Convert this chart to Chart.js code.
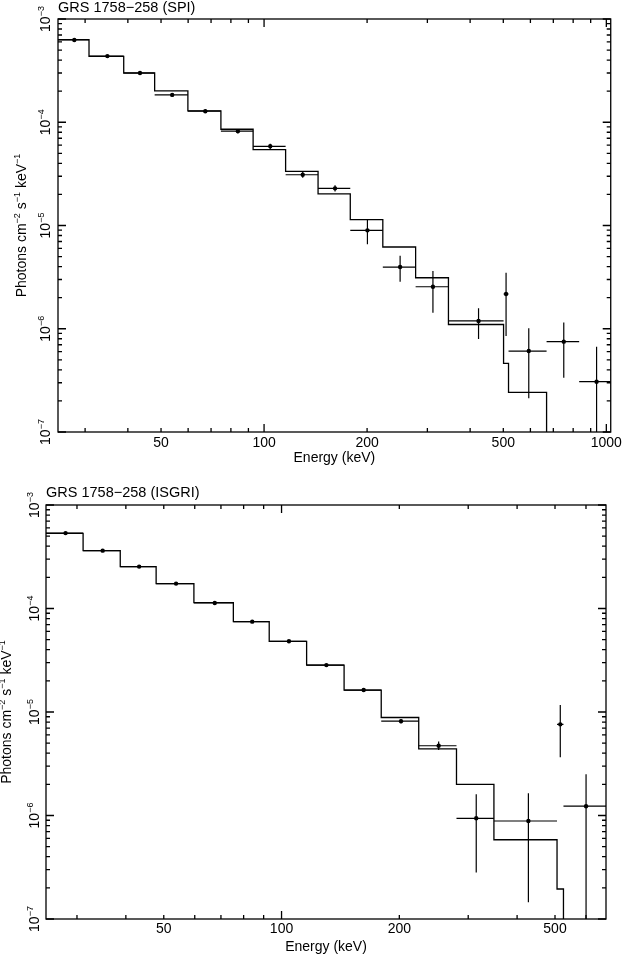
<!DOCTYPE html>
<html>
<head>
<meta charset="utf-8">
<title>GRS 1758-258 spectra</title>
<script src="https://cdn.jsdelivr.net/npm/chart.js@4.4.1/dist/chart.umd.min.js"></script>
<style>
  html, body { margin: 0; padding: 0; background: #fff; }
  #wrap { position: relative; width: 625px; height: 956px; }
  canvas { position: absolute; left: 0; }
</style>
</head>
<body>
<div id="wrap">
  <canvas id="spiChart" width="625" height="478" style="top:0;width:625px;height:478px"></canvas>
  <canvas id="isgriChart" width="625" height="478" style="top:478px;width:625px;height:478px"></canvas>
</div>
<script>
// ---- data (energy in keV, flux in photons cm^-2 s^-1 keV^-1)
var spiTicks = [50, 100, 200, 500, 1000];
var spiEdges = [25, 30.8, 38.9, 47.9, 59.9, 74.8, 92.9, 115.6, 143.8, 178.6, 222.3, 277.2, 345.7, 500.9, 517.9, 669, 833, 1040];
var spiModel = [6.3e-4, 4.35e-4, 3.0e-4, 2.01e-4, 1.29e-4, 8.55e-5, 5.42e-5, 3.35e-5, 2.02e-5, 1.14e-5, 6.19e-6, 3.12e-6, 1.10e-6, 4.62e-7, 2.42e-7, 3e-8, 1e-8];
var spiFlux  = [6.26e-4, 4.37e-4, 3.0e-4, 1.84e-4, 1.28e-4, 8.2e-5, 5.85e-5, 3.10e-5, 2.29e-5, 8.97e-6, 3.96e-6, 2.55e-6, 1.19e-6, 2.17e-6, 6.08e-7, 7.5e-7, 3.07e-7];
var spiHi    = [6.4e-4, 4.45e-4, 3.06e-4, 1.9e-4, 1.33e-4, 8.6e-5, 6.2e-5, 3.3e-5, 2.45e-5, 1.14e-5, 5.1e-6, 3.62e-6, 1.58e-6, 3.49e-6, 1.01e-6, 1.15e-6, 6.7e-7];
var spiLo    = [6.1e-4, 4.3e-4, 2.94e-4, 1.78e-4, 1.23e-4, 7.8e-5, 5.5e-5, 2.9e-5, 2.13e-5, 6.58e-6, 2.86e-6, 1.43e-6, 7.96e-7, 8.5e-7, 2.12e-7, 3.36e-7, 1e-8];

var isgriTicks = [50, 100, 200, 500];
var isgriEdges = [25, 31.1, 38.7, 47.8, 59.7, 75.3, 93.0, 115.9, 144.5, 179.8, 224.2, 280, 349, 506, 525.5, 675];
var isgriModel = [5.33e-4, 3.62e-4, 2.54e-4, 1.74e-4, 1.14e-4, 7.46e-5, 4.82e-5, 2.84e-5, 1.63e-5, 8.85e-6, 4.40e-6, 2.0e-6, 5.83e-7, 1.95e-7, 3e-8];
var isgriFlux  = [5.35e-4, 3.62e-4, 2.54e-4, 1.74e-4, 1.13e-4, 7.46e-5, 4.82e-5, 2.84e-5, 1.63e-5, 8.15e-6, 4.72e-6, 9.4e-7, 8.85e-7, 7.6e-6, 1.23e-6];
var isgriHi    = [5.45e-4, 3.68e-4, 2.58e-4, 1.77e-4, 1.16e-4, 7.6e-5, 4.92e-5, 2.9e-5, 1.67e-5, 8.5e-6, 5.2e-6, 1.6e-6, 1.64e-6, 1.17e-5, 2.5e-6];
var isgriLo    = [5.25e-4, 3.56e-4, 2.5e-4, 1.71e-4, 1.11e-4, 7.3e-5, 4.72e-5, 2.78e-5, 1.59e-5, 7.8e-6, 4.3e-6, 2.82e-7, 1.45e-7, 3.65e-6, 1e-8];

var FAMILY = '"Liberation Sans", Arial, Helvetica, sans-serif';
var FONT_SIZE = 14;

// ---- helpers to turn bins into chart points
function stepPoints(edges, model) {
  var pts = [];
  for (var i = 0; i < model.length; i++) pts.push({x: edges[i], y: model[i]});
  pts.push({x: edges[model.length], y: model[model.length - 1]});
  return pts;
}
function binCenters(edges, n) {
  var c = [];
  for (var i = 0; i < n; i++) c.push((edges[i] + edges[i + 1]) / 2);
  return c;
}
function xBars(edges, flux) {
  var pts = [];
  for (var i = 0; i < flux.length; i++) {
    pts.push({x: edges[i], y: flux[i]}, {x: edges[i + 1], y: flux[i]}, {x: edges[i + 1], y: null});
  }
  return pts;
}
function yBars(cen, lo, hi) {
  var pts = [];
  for (var i = 0; i < cen.length; i++) {
    pts.push({x: cen[i], y: lo[i]}, {x: cen[i], y: hi[i]}, {x: cen[i], y: null});
  }
  return pts;
}

function logTicks(min, max) {
  var out = [];
  for (var d = Math.floor(Math.log10(min)); d <= Math.ceil(Math.log10(max)); d++) {
    for (var k = 1; k <= 9; k++) {
      var v = k * Math.pow(10, d);
      if (v >= min * 0.9999 && v <= max * 1.0001) out.push({v: v, major: k === 1});
    }
  }
  return out;
}

// text with superscripts, parts = [[text, isSup], ...]
function supText(ctx, parts, x, y, size, rotate, center) {
  var base = size + 'px ' + FAMILY, sup = Math.round(size * 0.66) + 'px ' + FAMILY;
  ctx.save();
  ctx.translate(x, y);
  if (rotate) ctx.rotate(-Math.PI / 2);
  var w = 0;
  parts.forEach(function(p) { ctx.font = p[1] ? sup : base; w += ctx.measureText(p[0]).width; });
  var cx = center ? -w / 2 : 0;
  ctx.textBaseline = 'alphabetic';
  ctx.textAlign = 'left';
  ctx.fillStyle = '#000';
  parts.forEach(function(p) {
    ctx.font = p[1] ? sup : base;
    ctx.fillText(p[0], cx, p[1] ? -size * 0.42 : 0);
    cx += ctx.measureText(p[0]).width;
  });
  ctx.restore();
}

// frame, inward ticks, rotated decade labels, y title and panel title (PGPLOT look)
var framePlugin = {
  id: 'frame',
  afterDraw: function(chart, args, opts) {
    var ctx = chart.ctx, a = chart.chartArea, xs = chart.scales.x, ys = chart.scales.y;
    ctx.save();
    ctx.strokeStyle = '#000';
    ctx.lineWidth = 1.3;
    ctx.strokeRect(a.left, a.top, a.right - a.left, a.bottom - a.top);
    ctx.beginPath();
    logTicks(xs.min, xs.max).forEach(function(t) {
      var px = xs.getPixelForValue(t.v), len = t.major ? 8 : 4;
      ctx.moveTo(px, a.bottom); ctx.lineTo(px, a.bottom - len);
      ctx.moveTo(px, a.top); ctx.lineTo(px, a.top + len);
    });
    logTicks(ys.min, ys.max).forEach(function(t) {
      var py = ys.getPixelForValue(t.v), len = t.major ? 8 : 4;
      ctx.moveTo(a.left, py); ctx.lineTo(a.left + len, py);
      ctx.moveTo(a.right, py); ctx.lineTo(a.right - len, py);
    });
    ctx.stroke();

    logTicks(ys.min, ys.max).forEach(function(t) {
      if (!t.major) return;
      var exp = Math.round(Math.log10(t.v));
      supText(ctx, [['10', 0], ['\u2212' + Math.abs(exp), 1]], opts.tickX, ys.getPixelForValue(t.v), FONT_SIZE, true, true);
    });

    supText(ctx, [['Photons cm', 0], ['\u22122', 1], [' s', 0], ['\u22121', 1], [' keV', 0], ['\u22121', 1]],
      opts.titleX, (a.top + a.bottom) / 2, FONT_SIZE, true, true);

    supText(ctx, [[opts.panel, 0]], a.left, opts.panelY, 14.5, false, false);
    ctx.restore();
  }
};

function makeChart(id, c) {
  var cen = binCenters(c.edges, c.flux.length);
  return new Chart(document.getElementById(id), {
    type: 'line',
    data: {
      datasets: [
        { label: 'points', data: cen.map(function(x, i) { return {x: x, y: c.flux[i]}; }),
          showLine: false, pointRadius: 2.2, pointBackgroundColor: '#000', pointBorderWidth: 0 },
        { label: 'x errors', data: xBars(c.edges, c.flux), borderColor: '#000', borderWidth: 1.2,
          pointRadius: 0, spanGaps: false, fill: false },
        { label: 'y errors', data: yBars(cen, c.lo, c.hi), borderColor: '#000', borderWidth: 1.2,
          pointRadius: 0, spanGaps: false, fill: false },
        { label: 'model', data: stepPoints(c.edges, c.model), stepped: true, borderColor: '#000',
          borderWidth: 1.3, pointRadius: 0, fill: false }
      ]
    },
    options: {
      responsive: false,
      animation: false,
      devicePixelRatio: 1,
      events: [],
      layout: { padding: c.padding },
      plugins: {
        legend: { display: false },
        tooltip: { enabled: false },
        frame: { panel: c.panel, panelY: c.panelY, tickX: c.tickX, titleX: c.titleX }
      },
      scales: {
        x: {
          type: 'logarithmic', min: c.xmin, max: c.xmax,
          grid: { display: false, drawTicks: false },
          border: { display: false },
          afterBuildTicks: function(s) { s.ticks = c.ticks.map(function(v) { return {value: v}; }); },
          afterFit: function(s) { s.height = c.xHeight; },
          ticks: { color: '#000', font: { family: FAMILY, size: FONT_SIZE }, padding: c.tickPad,
                   autoSkip: false, maxRotation: 0, callback: function(v) { return String(v); } },
          title: { display: true, text: 'Energy (keV)', color: '#000',
                   font: { family: FAMILY, size: FONT_SIZE }, padding: { top: 0, bottom: c.titlePad } }
        },
        y: {
          type: 'logarithmic', min: 1e-7, max: 1e-3,
          grid: { display: false, drawTicks: false },
          border: { display: false },
          ticks: { display: false },
          afterFit: function(s) { s.width = c.yWidth; }
        }
      }
    },
    plugins: [framePlugin]
  });
}

makeChart('spiChart', {
  edges: spiEdges, model: spiModel, flux: spiFlux, hi: spiHi, lo: spiLo, ticks: spiTicks,
  xmin: 25, xmax: 1030, panel: 'GRS 1758\u2212258 (SPI)', panelY: 12,
  padding: { top: 19, right: 12, left: 0, bottom: 0 }, yWidth: 58, xHeight: 46,
  tickPad: 3, titlePad: 11, tickX: 50, titleX: 26
});

makeChart('isgriChart', {
  edges: isgriEdges, model: isgriModel, flux: isgriFlux, hi: isgriHi, lo: isgriLo, ticks: isgriTicks,
  xmin: 25, xmax: 675, panel: 'GRS 1758\u2212258 (ISGRI)', panelY: 19,
  padding: { top: 27, right: 19, left: 0, bottom: 0 }, yWidth: 46, xHeight: 37,
  tickPad: 2, titlePad: 0, tickX: 39, titleX: 11
});
</script>
</body>
</html>
